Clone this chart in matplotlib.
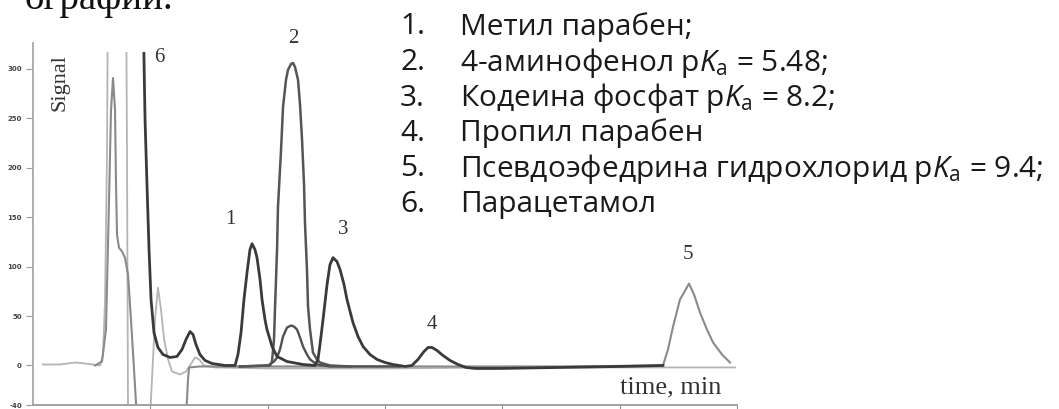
import matplotlib
matplotlib.use("Agg")
import matplotlib.pyplot as plt

plt.rcParams['mathtext.fontset'] = 'custom'
plt.rcParams['mathtext.rm'] = 'Open Sans'
plt.rcParams['mathtext.it'] = 'Open Sans:italic'

# chromatogram traces: time (min), signal
light_t = [0.085, 0.230, 0.358, 0.443, 0.571, 0.597, 0.614, 0.631, 0.639, 0.793, 0.801, 0.810,
           0.997, 1.014, 1.040, 1.065, 1.091, 1.117, 1.151, 1.185, 1.253, 1.304, 1.338, 1.381,
           1.415, 1.457, 1.551, 2.0, 3.0, 4.0, 5.0, 5.983]
light_s = [1.0, 1.0, 3.0, 2.0, 0.0, 11.1, 66.7, 218.2, 390, 390, 218.2, -54.5,
           -54.5, -14.1, 46.5, 78.8, 56.6, 26.3, 6.1, -6.1, -9.1, -6.1, 0.0, 8.1,
           6.1, 0.0, -2.0, -3.0, -3.0, -2.0, -2.0, -2.0]

mid_t = [0.528, 0.588, 0.622, 0.648, 0.665, 0.682, 0.699, 0.707, 0.716, 0.733, 0.759, 0.784,
         0.810, 0.835, 0.861, 0.886, 1.304, 1.321, 1.330, 1.423, 3.0, 4.5, 5.369, 5.412,
         5.455, 5.514, 5.591, 5.634, 5.685, 5.744, 5.796, 5.872, 5.940]
mid_s = [0.0, 4.0, 36.4, 167.7, 258.6, 290.9, 258.6, 187.9, 132.3, 119.2, 115.2, 109.1,
         91.9, 46.5, -4.0, -54.5, -54.5, -14.1, -2.0, -1.0, -1.0, -1.0, 0.0, 16.2,
         39.4, 66.7, 82.8, 71.7, 53.5, 36.4, 23.2, 11.1, 3.0]

dark_t = [0.938, 0.946, 0.955, 0.972, 0.989, 1.006, 1.031, 1.065, 1.108, 1.168, 1.227, 1.270,
          1.304, 1.338, 1.364, 1.389, 1.423, 1.466, 1.526, 1.636, 1.722, 1.747, 1.773, 1.798,
          1.824, 1.849, 1.867, 1.892, 1.909, 1.935, 1.952, 1.977, 1.994, 2.020, 2.037, 2.080,
          2.165, 2.301, 2.403, 2.429, 2.446, 2.472, 2.506, 2.531, 2.557, 2.591, 2.617, 2.651,
          2.676, 2.727, 2.770, 2.813, 2.872, 2.932, 3.000, 3.068, 3.171, 3.230, 3.281, 3.332,
          3.367, 3.401, 3.443, 3.494, 3.554, 3.622, 3.690, 3.767, 3.980, 4.492, 5.003, 5.369]
dark_s = [390, 309.1, 248.5, 180.8, 117.2, 66.7, 33.3, 18.2, 11.1, 8.1, 9.1, 16.2,
          26.3, 34.3, 31.3, 21.2, 11.1, 5.1, 2.0, 0.0, 0.0, 11.1, 33.3, 66.7,
          93.9, 117.2, 123.2, 117.2, 109.1, 86.9, 66.7, 46.5, 36.4, 26.3, 19.2, 9.1,
          4.0, 1.0, 0.0, 6.1, 21.2, 46.5, 81.8, 102.0, 109.1, 105.1, 97.0, 81.8,
          66.7, 43.4, 29.3, 19.2, 11.1, 6.1, 3.0, 1.0, -1.0, 0.0, 6.1, 14.1,
          18.2, 18.2, 15.2, 10.1, 5.1, 1.0, -2.0, -3.0, -3.0, -2.0, -1.0, 0.0]

hump_t = [1.764, 2.003, 2.054, 2.080, 2.105, 2.131, 2.165, 2.199, 2.224, 2.250, 2.276, 2.301,
          2.335, 2.361, 2.420, 2.531, 3.128]
hump_s = [-1.0, 0.0, 4.0, 8.1, 16.2, 29.3, 38.4, 40.4, 39.4, 36.4, 28.3, 19.2,
          11.1, 6.1, 1.0, -1.0, -1.0]

big_t = [1.764, 2.020, 2.037, 2.054, 2.063, 2.080, 2.088, 2.114, 2.131, 2.156, 2.173, 2.199,
         2.216, 2.233, 2.259, 2.276, 2.293, 2.310, 2.318, 2.335, 2.344, 2.361, 2.386, 2.420,
         2.446, 2.531, 2.702]
big_s = [-1.0, 0.0, 4.0, 26.3, 59.6, 117.2, 160.6, 218.2, 261.6, 288.9, 299.0, 305.1,
         306.1, 302.0, 288.9, 263.6, 228.3, 182.8, 144.4, 97.0, 59.6, 36.4, 13.1, 6.1,
         3.0, 0.0, -1.0]

peak_labels = ['6', '2', '1', '3', '4', '5']
label_t = [1.074, 2.216, 1.679, 2.642, 3.401, 5.582]
label_s = [312.0, 331.3, 147.5, 137.4, 41.4, 112.1]

y_ticks = [-40, 0, 50, 100, 150, 200, 250, 300]
x_ticks = [1, 2, 3, 4, 5, 6]

legend_nums = ['1.', '2.', '3.', '4.', '5.', '6.']
legend_items = ['Метил парабен;',
                '4-аминофенол p$K_\\mathrm{a}$ = 5.48;',
                'Кодеина фосфат p$K_\\mathrm{a}$ = 8.2;',
                'Пропил парабен',
                'Псевдоэфедрина гидрохлорид p$K_\\mathrm{a}$ = 9.4;',
                'Парацетамол']

W, H = 1059, 409
fig = plt.figure(figsize=(W / 100, H / 100), dpi=100)
ax = fig.add_axes([33 / W, 4 / H, 704 / W, 353 / H])

ax.plot(light_t, light_s, color='#b4b4b4', lw=1.3)
ax.plot(mid_t, mid_s, color='#8a8a8a', lw=1.5)
ax.plot(hump_t, hump_s, color='#505050', lw=1.7)
ax.plot(big_t, big_s, color='#555555', lw=1.8)
ax.plot(dark_t, dark_s, color='#3a3a3a', lw=2.0)

ax.set_xlim(0, 6)
ax.set_ylim(-39.4, 317.2)

for lab, t, s in zip(peak_labels, label_t, label_s):
    ax.text(t, s, lab, family='Liberation Serif', fontsize=15, color='#333333',
            ha='center', va='center')

ax.text(0.23, 285.9, 'Signal', family='Liberation Serif', fontsize=16, color='#333333',
        rotation=90, ha='center', va='center')
ax.text(5.438, -22.2, 'time, min', family='Liberation Serif', fontsize=19, color='#333333',
        ha='center', va='center')

for side in ['top', 'right', 'left']:
    ax.spines[side].set_visible(False)
ax.spines['bottom'].set_color('#9a9a9a')
ax.spines['bottom'].set_linewidth(1.3)
ax.axvline(0, ymin=0, ymax=362 / 353, color='#a8a8a8', lw=1.3, clip_on=False)

ax.set_yticks(y_ticks)
ax.set_yticklabels([str(v) for v in y_ticks], fontsize=5, fontweight='bold', color='#444444')
ax.set_xticks(x_ticks)
ax.set_xticklabels([])
ax.tick_params(axis='y', length=5, color='#a0a0a0', pad=3)
ax.tick_params(axis='x', length=4, color='#909090', direction='out')

# cut-off heading from the page above
fig.text(25 / W, 1 - 9 / H, 'ографии.', family='Liberation Serif', fontsize=28,
         color='#111111', va='baseline')

for i, (num, item) in enumerate(zip(legend_nums, legend_items)):
    y = 1 - (27 + 35.5 * i) / H
    fig.text(400 / W, y, num, family='Open Sans', fontsize=21.5, color='#1a1a1a', va='center')
    fig.text(460 / W, y, item, family='Open Sans', fontsize=21.5, color='#1a1a1a', va='center')

fig.savefig('out.png', dpi=100)
